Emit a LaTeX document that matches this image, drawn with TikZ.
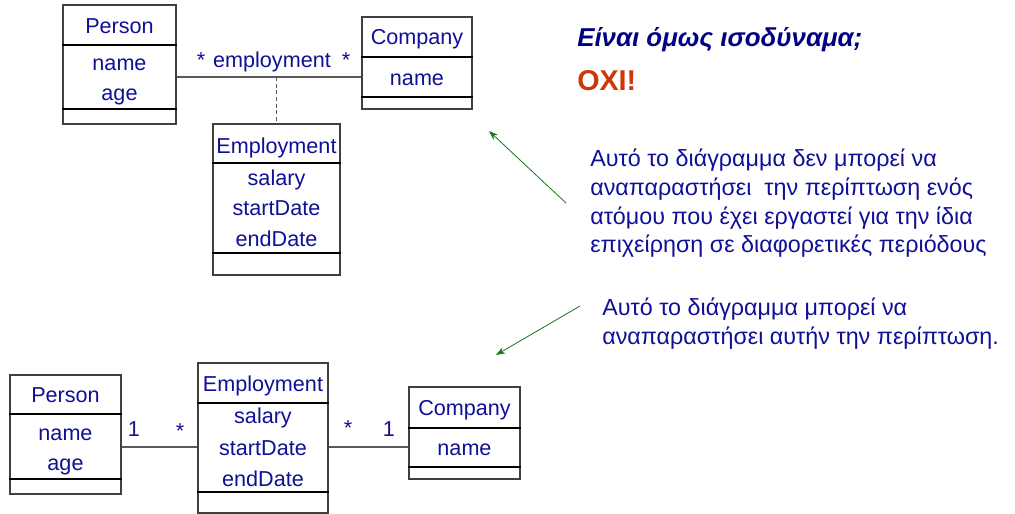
\documentclass[tikz,border=0pt]{standalone}
\usepackage{fontspec}
\setmainfont{Liberation Sans}
\usetikzlibrary{fit,arrows.meta}
\definecolor{umlblue}{RGB}{16,16,150}
\definecolor{noteblue}{RGB}{16,16,150}
\definecolor{titleblue}{RGB}{0,0,130}
\definecolor{noRed}{RGB}{205,55,10}
\definecolor{arrowgreen}{RGB}{20,120,20}
\tikzset{
  classbox/.style={draw=black!75, line width=0.8pt, inner sep=0pt, fill=white},
  divider/.style={draw=black, line width=1.3pt},
  assoc/.style={draw=black!65, line width=0.8pt},
  umltext/.style={text=umlblue, font=\fontsize{16.2}{19}\selectfont, inner sep=0pt, anchor=base},
  notetext/.style={text=noteblue, font=\fontsize{17.5}{21.5}\selectfont, inner sep=0pt, anchor=north west, align=left},
  pointer/.style={draw=arrowgreen, line width=0.6pt, -{Stealth[length=7pt,width=5pt]}},
}
\begin{document}
\begin{tikzpicture}[x=0.75pt,y=-0.75pt]
\useasboundingbox (0,0) rectangle (1015,514);

% ---------- upper diagram: association with attributes ----------
\node[classbox, fit={(63,5)(176,124)}] (p1) {};
\draw[divider] (p1.west |- 0,45) -- (p1.east |- 0,45);
\draw[divider] (p1.west |- 0,109) -- (p1.east |- 0,109);
\node[umltext] (p1n) at (119.5,33) {Person};
\node[umltext] (p1a) at (119.5,70) {name};
\node[umltext] (p1b) at (119.5,100) {age};

\node[classbox, fit={(362,17)(472,109)}] (c1) {};
\draw[divider] (c1.west |- 0,57) -- (c1.east |- 0,57);
\draw[divider] (c1.west |- 0,97) -- (c1.east |- 0,97);
\node[umltext] (c1n) at (417,45) {Company};
\node[umltext] (c1a) at (417,85) {name};

\node[classbox, fit={(213,124)(340,275)}] (e1) {};
\draw[divider] (e1.west |- 0,163) -- (e1.east |- 0,163);
\draw[divider] (e1.west |- 0,253) -- (e1.east |- 0,253);
\node[umltext] (e1n) at (276.5,153) {Employment};
\node[umltext] (e1a) at (276.5,185) {salary};
\node[umltext] (e1b) at (276.5,215) {startDate};
\node[umltext] (e1c) at (276.5,246) {endDate};

\coordinate (j1) at (276.5,77);
\draw[assoc] (p1.east |- 0,77) -- (c1.west |- 0,77);
\draw[assoc, dashed, dash pattern=on 3pt off 2pt] (j1) -- (e1.north);
\node[umltext] (l1) at (201,67) {*};
\node[umltext] (l2) at (272,67) {employment};
\node[umltext] (l3) at (346,67) {*};

% ---------- lower diagram: association class promoted to a class ----------
\node[classbox, fit={(10,375)(121,494)}] (p2) {};
\draw[divider] (p2.west |- 0,414) -- (p2.east |- 0,414);
\draw[divider] (p2.west |- 0,479) -- (p2.east |- 0,479);
\node[umltext] (p2n) at (65.5,402) {Person};
\node[umltext] (p2a) at (65.5,440) {name};
\node[umltext] (p2b) at (65.5,470) {age};

\node[classbox, fit={(198,363)(328,513)}] (e2) {};
\draw[divider] (e2.west |- 0,403) -- (e2.east |- 0,403);
\draw[divider] (e2.west |- 0,492) -- (e2.east |- 0,492);
\node[umltext] (e2n) at (263,391) {Employment};
\node[umltext] (e2a) at (263,423) {salary};
\node[umltext] (e2b) at (263,455) {startDate};
\node[umltext] (e2c) at (263,486) {endDate};

\node[classbox, fit={(409,387)(520,479)}] (c2) {};
\draw[divider] (c2.west |- 0,428) -- (c2.east |- 0,428);
\draw[divider] (c2.west |- 0,467) -- (c2.east |- 0,467);
\node[umltext] (c2n) at (464.5,415) {Company};
\node[umltext] (c2a) at (464.5,455) {name};

\draw[assoc] (p2.east |- 0,447) -- (e2.west |- 0,447);
\draw[assoc] (e2.east |- 0,447) -- (c2.west |- 0,447);
\node[umltext] (m1) at (134,436) {1};
\node[umltext] (m2) at (180,438) {*};
\node[umltext] (m3) at (348,435) {*};
\node[umltext] (m4) at (389,436) {1};

% ---------- commentary ----------
\node[text=titleblue, font=\fontsize{19.4}{22}\selectfont\bfseries\itshape, anchor=base west, inner sep=0pt] (q) at (577,46) {Είναι όμως ισοδύναμα;};
\node[text=noRed, font=\fontsize{21.5}{24}\selectfont\bfseries, anchor=base west, inner sep=0pt] (no) at (577,90) {ΟΧΙ!};

\node[notetext] (n1) at (590,149) {Αυτό το διάγραμμα δεν μπορεί να\\αναπαραστήσει \ την περίπτωση ενός\\ατόμου που έχει εργαστεί για την ίδια\\επιχείρηση σε διαφορετικές περιόδους};
\node[notetext] (n2) at (602,298) {Αυτό το διάγραμμα μπορεί να\\αναπαραστήσει αυτήν την περίπτωση.};

\coordinate (a1s) at (566,203);
\coordinate (a1e) at (489,131);
\coordinate (a2s) at (580,306);
\coordinate (a2e) at (496,355);
\draw[pointer] (a1s) -- (a1e);
\draw[pointer] (a2s) -- (a2e);
\end{tikzpicture}
\end{document}
